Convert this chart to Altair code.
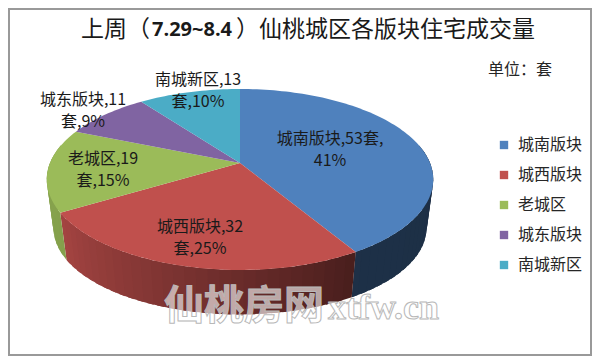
import math
import altair as alt

names = ["城南版块", "城西版块", "老城区", "城东版块", "南城新区"]
values = [53, 32, 19, 11, 13]
colors = ["#4f81bd", "#c0504d", "#9bbb59", "#8064a2", "#4bacc6"]
label_line1 = ["城南版块,53套,", "城西版块,32", "老城区,19", "城东版块,11", "南城新区,13"]
label_line2 = ["41%", "套,25%", "套,15%", "套,9%", "套,10%"]
label_pos = [(330, 139, 161), (200, 227, 249), (103, 159, 181), (83, 100, 122), (198, 80, 102)]

FONT = "Noto Sans CJK SC"
CX, CY, A, B, K = 240, 163, 190, 87.5, 0.182


def top(deg, r=1.0):
    t = math.radians(deg)
    X, Y = r * math.sin(t), -r * math.cos(t)
    w = 1 - K * Y
    return (CX + A * X / w, CY + B * Y / w)


def base(deg):
    x, y = top(deg)
    return (CX + (x - CX) * 0.965, 229 + (y - 180) * 0.95)


def darken(hex_color, f):
    rgb = [int(hex_color[i:i + 2], 16) for i in (1, 3, 5)]
    return "#%02x%02x%02x" % tuple(int(c * f) for c in rgb)


def shade(deg):
    stops = [(60, 0.36), (149, 0.38), (180, 0.55), (210, 0.72), (239, 0.86), (300, 0.88)]
    for (a, fa), (b, fb) in zip(stops, stops[1:]):
        if a <= deg <= b:
            return fa + (fb - fa) * (deg - a) / (b - a)
    return 0.88


def poly(points, **props):
    ring = [list(p) for p in points] + [list(points[0])]
    return {"type": "Feature", "properties": props,
            "geometry": {"type": "Polygon", "coordinates": [ring]}}


total = sum(values)
edges = [0.0]
for v in values:
    edges.append(edges[-1] + v / total * 360)

wedges, strips = [], []
for name, a, b, col in zip(names, edges, edges[1:], colors):
    n = max(2, int((b - a) / 1.5))
    arc = [top(a + (b - a) * i / n) for i in range(n + 1)]
    wedges.append(poly([(CX, CY)] + arc, name=name))
    lo, hi = max(a, 78), min(b, 282)
    d = lo
    while d < hi:
        e = min(d + 3, hi)
        over = min(e + 2, hi)
        strips.append(poly([top(d), top(d + (over - d) / 2), top(over), base(over), base(d)],
                           fill=darken(col, shade((d + e) / 2))))
        d = e

PROJ = dict(type="identity", scale=1, translate=[-8, -8])

frame = alt.Chart(alt.Data(values=[poly([(9, 9), (591, 9), (591, 355), (9, 355)], fill="#ffffff")])).mark_geoshape(
    fill="#ffffff", stroke="#999999", strokeWidth=2
).project(**PROJ)

side = alt.Chart(alt.Data(values=strips)).mark_geoshape().encode(
    fill=alt.Fill("properties.fill:N", scale=None),
).project(**PROJ)

face = alt.Chart(alt.Data(values=wedges)).mark_geoshape().encode(
    color=alt.Color(
        "properties.name:N",
        scale=alt.Scale(domain=names, range=colors),
        legend=alt.Legend(
            title=None, orient="none", legendX=488, legendY=129,
            symbolType="square", symbolSize=70, symbolStrokeWidth=0,
            labelFont=FONT, labelFontSize=16, labelColor="#262626",
            rowPadding=14, labelOffset=6,
        ),
    ),
).project(**PROJ)


def text_layer(rows, **mark):
    return alt.Chart(alt.Data(values=rows)).mark_text(**mark).encode(
        longitude="x:Q", latitude="y:Q", text="t:N"
    ).project(**PROJ)


labels = []
for l1, l2, (x, y1, y2) in zip(label_line1, label_line2, label_pos):
    labels.append({"x": x, "y": y1, "t": l1})
    labels.append({"x": x, "y": y2, "t": l2})

label_layer = text_layer(labels, font=FONT, fontSize=16, color="#1a1a1a", baseline="middle")
title1 = text_layer([{"x": 81, "y": 30, "t": "上周（"}], font=FONT, fontSize=23, color="#1a1a1a",
                    align="left", baseline="middle")
title2 = text_layer([{"x": 152, "y": 30, "t": "7.29~8.4"}], font="Open Sans", fontWeight="bold",
                    fontSize=20, color="#1a1a1a", align="left", baseline="middle")
title3 = text_layer([{"x": 236, "y": 30, "t": "）仙桃城区各版块住宅成交量"}], font=FONT, fontSize=23,
                    color="#1a1a1a", align="left", baseline="middle")
unit = text_layer([{"x": 488, "y": 70, "t": "单位：套"}], font=FONT, fontSize=16, color="#262626",
                  align="left", baseline="middle")
mark1 = text_layer([{"x": 164, "y": 307, "t": "仙桃房网"}], font=FONT, fontWeight="bold", fontSize=40,
                   fill="#ffffff", fillOpacity=0.6, stroke="#b8b8b8", strokeWidth=1,
                   align="left", baseline="middle")
mark2 = text_layer([{"x": 328, "y": 308, "t": "xtfw.cn"}], font="Liberation Serif", fontWeight="bold",
                   fontSize=36, fill="#ffffff", fillOpacity=0.6, stroke="#b8b8b8", strokeWidth=1,
                   align="left", baseline="middle")

chart = alt.layer(frame, side, face, label_layer, title1, title2, title3, unit, mark1, mark2).properties(
    width=584, height=348, padding=0,
    background="#ffffff", autosize=alt.AutoSizeParams(type="none"),
).configure_view(stroke=None)

chart.save("out.html", embed_options={"renderer": "svg", "actions": False})
